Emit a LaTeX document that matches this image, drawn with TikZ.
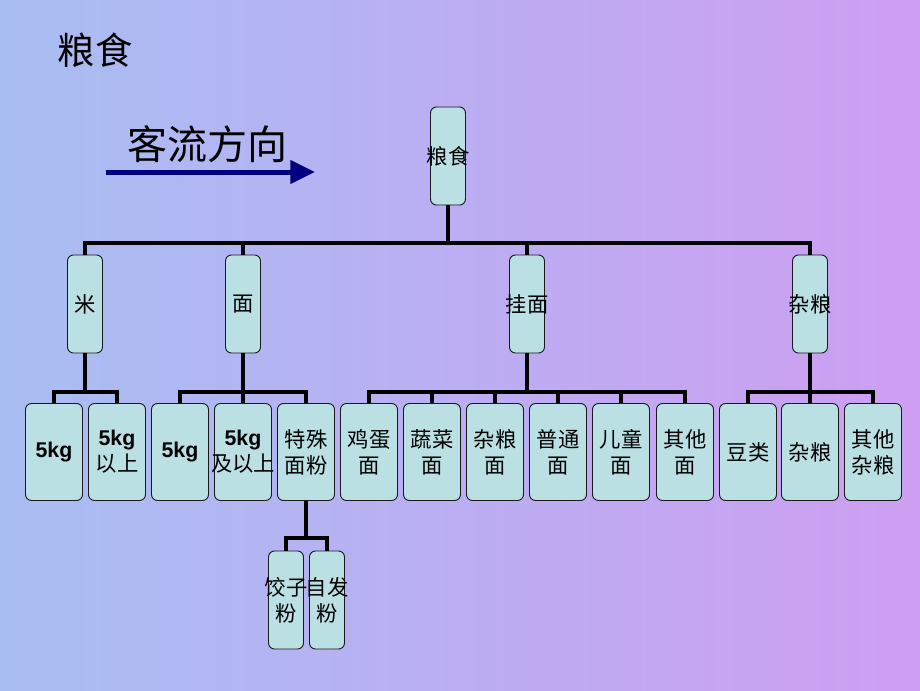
\documentclass[tikz,border=0pt]{standalone}
\usepackage{fontspec}
\setmainfont{Noto Sans CJK SC}
\newfontfamily\arial{Liberation Sans}
\usetikzlibrary{arrows.meta}
\definecolor{boxfill}{RGB}{187,224,227}
\definecolor{bgleft}{RGB}{168,190,242}
\definecolor{bgright}{RGB}{206,158,242}
\definecolor{flowblue}{RGB}{0,0,128}
\newcommand{\kg}{{\arial\bfseries 5kg}}

\begin{document}
\begin{tikzpicture}[x=0.75pt,y=-0.75pt,
  box/.style={draw=black!90,line width=0.7pt,fill=boxfill,rounded corners=4.5pt,inner sep=0pt},
  tall/.style={box,minimum width=26.25pt,minimum height=73.5pt},
  wide/.style={box,minimum width=42.75pt,minimum height=72.75pt},
  lbl/.style={font=\fontsize{16}{19.5}\selectfont,align=center},
  link/.style={line width=2.4pt}]
    \useasboundingbox (0,0) rectangle (920,690);
    \shade[left color=bgleft,right color=bgright] (0,0) rectangle (920,690);

%    title and flow direction
    \node[font=\fontsize{28}{30}\selectfont] (title) at (95,50) {粮食};
    \node[font=\fontsize{30}{32}\selectfont] (flowtxt) at (207,144) {客流方向};
    \coordinate (flowstart) at (106,172);
    \coordinate (flowend) at (315,172);
    \draw[flowblue,line width=3.75pt,-{Triangle[length=18.5pt,width=17pt]}] (flowstart) -- (flowend);

%    top level
    \node[tall,label={[lbl]center:粮食}] (root) at (448,156) {};
    \node[tall,label={[lbl]center:米}] (mi) at (85,304) {};
    \node[tall,label={[lbl]center:面}] (mian) at (243,304) {};
    \node[tall,label={[lbl]center:挂面}] (gua) at (527,304) {};
    \node[tall,label={[lbl]center:杂粮}] (zl) at (810,304) {};

%    second level
    \node[wide,label={[lbl]center:\kg}] (mia) at (54,452) {};
    \node[wide,label={[lbl]center:\kg\\以上}] (mib) at (117,452) {};
    \node[wide,label={[lbl]center:\kg}] (mna) at (180,452) {};
    \node[wide,label={[lbl]center:\kg\\及以上}] (mnb) at (243,452) {};
    \node[wide,label={[lbl]center:特殊\\面粉}] (mnc) at (306,452) {};
    \node[wide,label={[lbl]center:鸡蛋\\面}] (ga) at (369,452) {};
    \node[wide,label={[lbl]center:蔬菜\\面}] (gb) at (432,452) {};
    \node[wide,label={[lbl]center:杂粮\\面}] (gc) at (495,452) {};
    \node[wide,label={[lbl]center:普通\\面}] (gd) at (558,452) {};
    \node[wide,label={[lbl]center:儿童\\面}] (ge) at (621,452) {};
    \node[wide,label={[lbl]center:其他\\面}] (gf) at (685,452) {};
    \node[wide,label={[lbl]center:豆类}] (za) at (748,452) {};
    \node[wide,label={[lbl]center:杂粮}] (zb) at (810,452) {};
    \node[wide,label={[lbl]center:其他\\杂粮}] (zc) at (873,452) {};

%    third level
    \node[tall,label={[lbl]center:饺子\\粉}] (jiao) at (286,600) {};
    \node[tall,label={[lbl]center:自发\\粉}] (zifa) at (327,600) {};

%    connectors
    \coordinate (bus0) at (448,243);
    \draw[link] (root.south) -- (bus0);
    \foreach \n in {mi,mian,gua,zl} \draw[link] (bus0) -| (\n.north);

    \coordinate (bus1) at (85,392);
    \draw[link] (mi.south) -- (bus1);
    \foreach \n in {mia,mib} \draw[link] (bus1) -| (\n.north);

    \coordinate (bus2) at (243,392);
    \draw[link] (mian.south) -- (bus2);
    \foreach \n in {mna,mnb,mnc} \draw[link] (bus2) -| (\n.north);

    \coordinate (bus3) at (527,392);
    \draw[link] (gua.south) -- (bus3);
    \foreach \n in {ga,gb,gc,gd,ge,gf} \draw[link] (bus3) -| (\n.north);

    \coordinate (bus4) at (810,392);
    \draw[link] (zl.south) -- (bus4);
    \foreach \n in {za,zb,zc} \draw[link] (bus4) -| (\n.north);

    \coordinate (bus5) at (306,538);
    \draw[link] (mnc.south) -- (bus5);
    \foreach \n in {jiao,zifa} \draw[link] (bus5) -| (\n.north);

\end{tikzpicture}
\end{document}
